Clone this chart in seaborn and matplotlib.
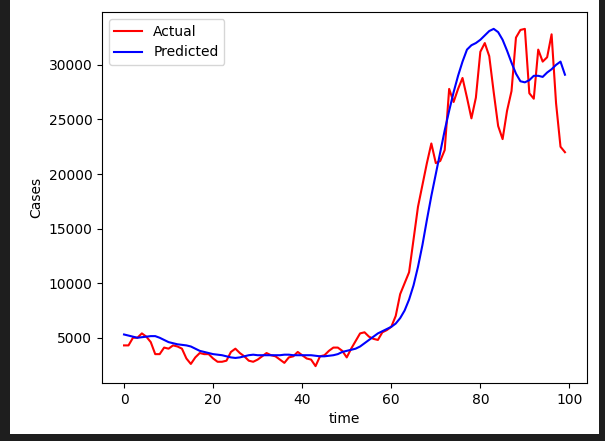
import numpy as np
import pandas as pd
import seaborn as sns
import matplotlib.pyplot as plt
from matplotlib.patches import Rectangle

time = list(range(100))
actual = [4300, 4300, 5000, 5000, 5400, 5100, 4600, 3500, 3500, 4100,
          4000, 4300, 4200, 4000, 3100, 2600, 3200, 3600, 3500, 3500,
          3100, 2800, 2800, 2900, 3700, 4000, 3600, 3300, 2900, 2800,
          3000, 3300, 3600, 3400, 3300, 3000, 2700, 3200, 3300, 3700,
          3400, 3100, 3000, 2400, 3300, 3400, 3800, 4100, 4100, 3800,
          3200, 4000, 4700, 5400, 5500, 5100, 4900, 4800, 5500, 5700,
          6000, 7000, 9000, 10000, 11000, 14000, 17000, 19000, 21000, 22800,
          21000, 21200, 22200, 27800, 26600, 27800, 28800, 27000, 25100, 27000,
          31200, 32000, 30800, 27500, 24400, 23200, 25800, 27600, 32500, 33200,
          33300, 27400, 26900, 31400, 30300, 30700, 32800, 26500, 22500, 22000]
predicted = [5300, 5200, 5100, 5000, 5050, 5100, 5150, 5150, 5000, 4800,
             4600, 4500, 4400, 4350, 4300, 4200, 4000, 3800, 3700, 3600,
             3500, 3450, 3400, 3300, 3200, 3150, 3200, 3300, 3400, 3450,
             3400, 3400, 3400, 3400, 3400, 3400, 3450, 3450, 3400, 3400,
             3400, 3400, 3400, 3350, 3300, 3300, 3350, 3400, 3500, 3700,
             3800, 3900, 4000, 4200, 4500, 4800, 5100, 5400, 5600, 5800,
             6000, 6300, 6800, 7500, 8500, 9800, 11500, 13500, 15800, 18000,
             20000, 22000, 24000, 25800, 27500, 29000, 30300, 31400, 31800, 32000,
             32300, 32700, 33100, 33300, 33000, 32300, 31300, 30200, 29200, 28500,
             28400, 28600, 29000, 29000, 28900, 29300, 29600, 30000, 30300, 29100]

df = pd.DataFrame({"time": time, "Actual": actual, "Predicted": predicted})

fig = plt.figure(figsize=(6.05, 4.41), dpi=100, facecolor="#1e1e1e")
# white area of the screenshot inside the dark frame
fig.patches.append(Rectangle((10 / 605, 7 / 441), 589 / 605, 434 / 441,
                             transform=fig.transFigure, facecolor="white", zorder=-10))
ax = fig.add_axes([102 / 605, 58 / 441, 485 / 605, 371 / 441])

sns.lineplot(data=df, x="time", y="Actual", color="red", label="Actual", ax=ax)
sns.lineplot(data=df, x="time", y="Predicted", color="blue", label="Predicted", ax=ax)

ax.set_xlabel("time")
ax.set_ylabel("Cases")
ax.legend(loc="upper left")

fig.savefig("out.png", dpi=100, facecolor=fig.get_facecolor())
